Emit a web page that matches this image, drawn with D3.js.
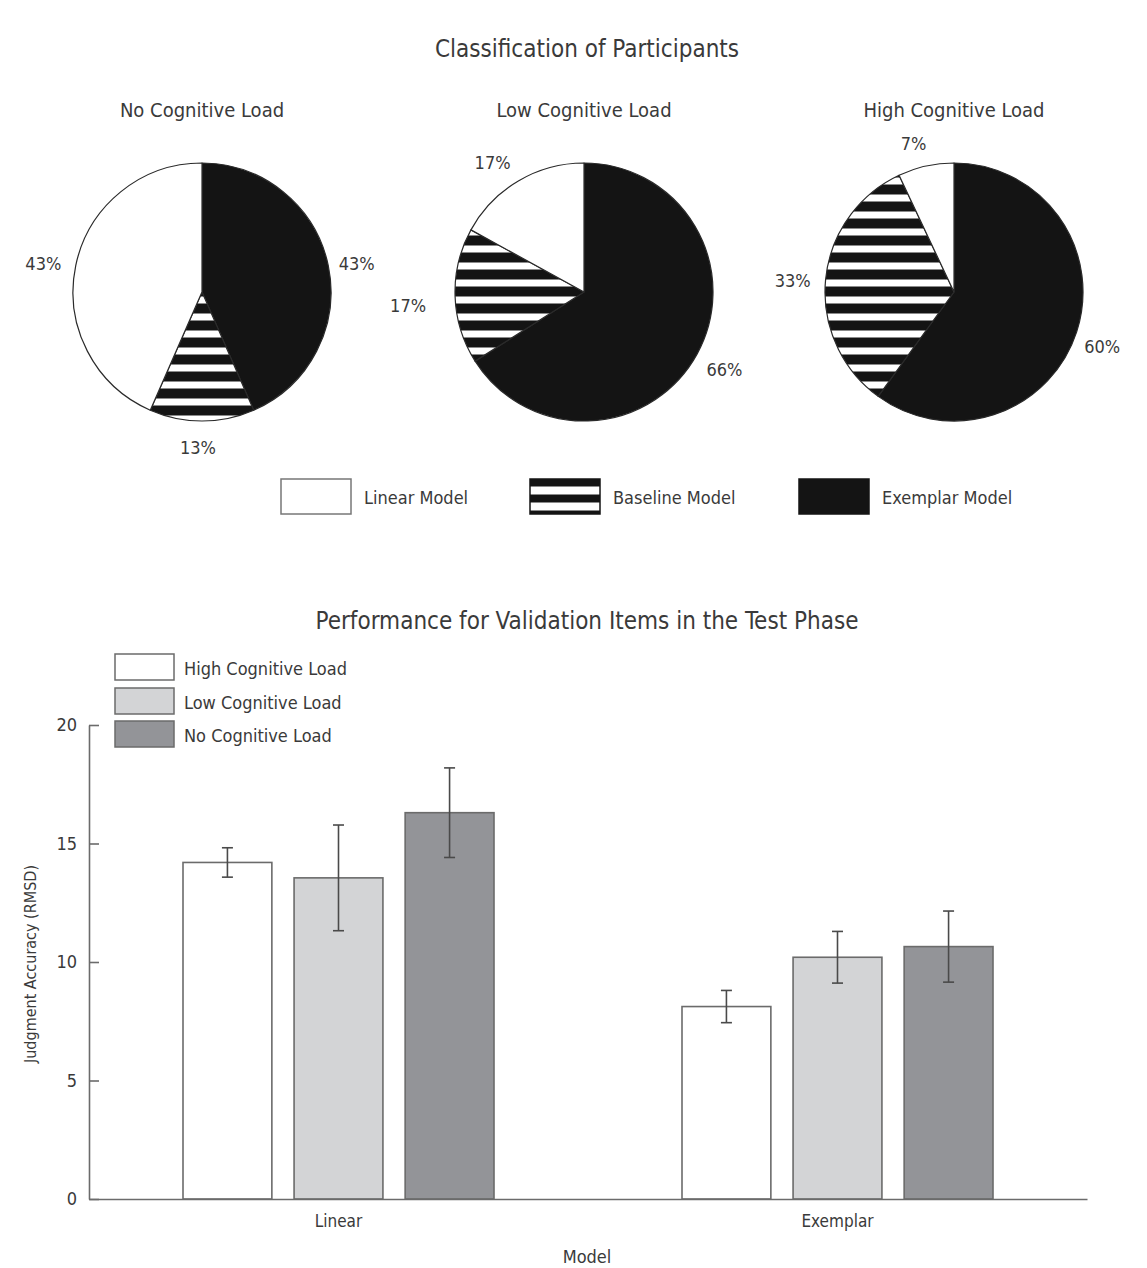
<!DOCTYPE html>
<html><head><meta charset="utf-8">
<script src="https://cdn.jsdelivr.net/npm/d3@7"></script>
<style>
body{margin:0;background:#fff;}
svg text{font-family:"Liberation Sans Narrow","Arial Narrow","DejaVu Sans Condensed",sans-serif;fill:#3a3a3a;}
</style></head><body>
<svg id="c" width="1147" height="1268"></svg>
<script>
// ---------- data ----------
const pieTitles = ["No Cognitive Load","Low Cognitive Load","High Cognitive Load"];
const modelNames = ["Linear Model","Baseline Model","Exemplar Model"];
// clockwise from 12 o'clock: Exemplar, Baseline, Linear
const exemplarPct = [43,66,60];
const baselinePct = [13,17,33];
const linearPct   = [43,17,7];

const barCategories = ["Linear","Exemplar"];
const loadSeries = ["High Cognitive Load","Low Cognitive Load","No Cognitive Load"];
const highMeans = [14.2, 8.12];
const highErr   = [0.62, 0.68];
const lowMeans  = [13.55, 10.2];
const lowErr    = [2.23, 1.09];
const noMeans   = [16.3, 10.65];
const noErr     = [1.89, 1.5];
const yTicks = [0,5,10,15,20];

// ---------- styles / layout ----------
const svg = d3.select("#c");
const BLACK = "#141414";
const pieCX = d3.scaleOrdinal().domain(pieTitles).range([202,584,954]);
const pieCY = 292, R = 129, labelR = 158;
// label nudges [dx,dy] in order Exemplar, Baseline, Linear
const labelNudge = [
  [[0,4],[-4,-3],[-4,4]],
  [[2,1],[-18,9],[-11,6]],
  [[-2,6],[-4,3],[-6,6]]
];

const defs = svg.append("defs");
function hatch(id, y0, period, white){
  const p = defs.append("pattern").attr("id",id).attr("patternUnits","userSpaceOnUse")
    .attr("x",0).attr("y",y0).attr("width",10).attr("height",period);
  p.append("rect").attr("width",10).attr("height",period).attr("fill",BLACK);
  p.append("rect").attr("width",10).attr("height",white).attr("fill","#fff");
}
hatch("hatchPie", 4.5, 17, 7);
hatch("hatchLeg", 7.5, 16, 8);

// ---------- pie section ----------
svg.append("text").attr("x",587).attr("y",57).attr("text-anchor","middle")
  .style("font-size","24px").text("Classification of Participants");

const pie = d3.pie().sort(null).value(d=>d.v);
const arc = d3.arc().innerRadius(0).outerRadius(R);
const fillFor = {"Exemplar Model":BLACK,"Baseline Model":"url(#hatchPie)","Linear Model":"#fff"};

pieTitles.forEach((t,i)=>{
  const data = [
    {m:"Exemplar Model", v:exemplarPct[i]},
    {m:"Baseline Model", v:baselinePct[i]},
    {m:"Linear Model", v:linearPct[i]}
  ];
  const g = svg.append("g").attr("transform",`translate(${pieCX(t)},${pieCY})`);
  svg.append("text").attr("x",pieCX(t)).attr("y",117).attr("text-anchor","middle")
    .style("font-size","20px").text(t);
  const arcs = pie(data);
  g.selectAll("path").data(arcs).join("path")
    .attr("d",arc).attr("fill",d=>fillFor[d.data.m])
    .attr("stroke","#2a2a2a").attr("stroke-width",1.2).attr("stroke-linejoin","round");
  g.selectAll("text.lbl").data(arcs).join("text").attr("class","lbl")
    .attr("x",(d,j)=>{const a=(d.startAngle+d.endAngle)/2; return Math.sin(a)*labelR+labelNudge[i][j][0];})
    .attr("y",(d,j)=>{const a=(d.startAngle+d.endAngle)/2; return -Math.cos(a)*labelR+labelNudge[i][j][1];})
    .attr("text-anchor","middle").attr("dominant-baseline","central")
    .style("font-size","18px").text(d=>d.data.v+"%");
});

// pie legend
const legX = d3.scaleOrdinal().domain(modelNames).range([281,530,799]);
const legFill = {"Linear Model":"#fff","Baseline Model":"url(#hatchLeg)","Exemplar Model":BLACK};
modelNames.forEach(m=>{
  const g = svg.append("g").attr("transform",`translate(${legX(m)},479)`);
  g.append("rect").attr("width",70).attr("height",35).attr("fill",legFill[m])
    .attr("stroke", m==="Linear Model" ? "#777" : BLACK).attr("stroke-width",1.5);
  g.append("text").attr("x",83).attr("y",18).attr("dominant-baseline","central")
    .style("font-size","18px").text(m);
});

// ---------- bar section ----------
svg.append("text").attr("x",587).attr("y",629).attr("text-anchor","middle")
  .style("font-size","24px").text("Performance for Validation Items in the Test Phase");

const y = d3.scaleLinear().domain([0,20]).range([1199,725]);
const x0 = d3.scaleBand().domain(barCategories).range([89,1087]);
const x1 = d3.scaleBand().domain(loadSeries).range([-155.5,155.5]).paddingInner(0.2);
const barFill = d3.scaleOrdinal().domain(loadSeries).range(["#ffffff","#d3d4d6","#939498"]);
const seriesMeans = [highMeans, lowMeans, noMeans];
const seriesErr = [highErr, lowErr, noErr];

const barRows = [];
loadSeries.forEach((s,si)=>barCategories.forEach((c,ci)=>
  barRows.push({s, c, v:seriesMeans[si][ci], e:seriesErr[si][ci]})));

const gb = svg.append("g");
gb.selectAll("rect.bar").data(barRows).join("rect").attr("class","bar")
  .attr("x",d=>x0(d.c)+x0.bandwidth()/2+x1(d.s))
  .attr("width",x1.bandwidth())
  .attr("y",d=>y(d.v)).attr("height",d=>y(0)-y(d.v))
  .attr("fill",d=>barFill(d.s)).attr("stroke","#6b6b6b").attr("stroke-width",1.6);

const ge = gb.selectAll("g.err").data(barRows).join("g").attr("class","err")
  .attr("transform",d=>`translate(${x0(d.c)+x0.bandwidth()/2+x1(d.s)+x1.bandwidth()/2},0)`)
  .attr("stroke","#4a4a4a").attr("stroke-width",1.6);
ge.append("line").attr("y1",d=>y(d.v+d.e)).attr("y2",d=>y(d.v-d.e));
ge.append("line").attr("x1",-5.5).attr("x2",5.5).attr("y1",d=>y(d.v+d.e)).attr("y2",d=>y(d.v+d.e));
ge.append("line").attr("x1",-5.5).attr("x2",5.5).attr("y1",d=>y(d.v-d.e)).attr("y2",d=>y(d.v-d.e));

// axes
const yAxis = svg.append("g").attr("transform","translate(89,0)")
  .call(d3.axisLeft(y).tickValues(yTicks).tickSize(-10).tickSizeOuter(0).tickPadding(12));
yAxis.selectAll("text").style("font-size","18px").attr("fill","#3a3a3a");
yAxis.selectAll("line,path").attr("stroke","#6b6b6b").attr("stroke-width",1.6);

const xAxis = svg.append("g").attr("transform","translate(0,1199)")
  .call(d3.axisBottom(x0).tickSize(0).tickSizeOuter(0).tickPadding(16));
xAxis.selectAll("text").style("font-size","17px").attr("fill","#3a3a3a");
xAxis.select("path").attr("stroke","#6b6b6b").attr("stroke-width",1.6);

svg.append("text").attr("x",587).attr("y",1263).attr("text-anchor","middle")
  .style("font-size","18px").text("Model");
svg.append("text").attr("transform","translate(36,964) rotate(-90)").attr("text-anchor","middle")
  .style("font-size","16px").text("Judgment Accuracy (RMSD)");

// bar legend
const legY = d3.scaleOrdinal().domain(loadSeries).range([654,688,721]);
loadSeries.forEach(s=>{
  const g = svg.append("g").attr("transform",`translate(115,${legY(s)})`);
  g.append("rect").attr("width",59).attr("height",26).attr("fill",barFill(s))
    .attr("stroke","#6b6b6b").attr("stroke-width",1.5);
  g.append("text").attr("x",69).attr("y",14).attr("dominant-baseline","central")
    .style("font-size","18px").text(s);
});
</script>
</body></html>
